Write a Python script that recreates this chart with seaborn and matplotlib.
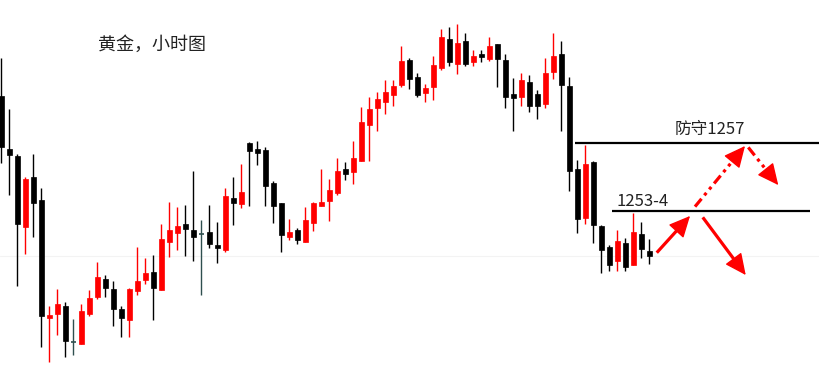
import numpy as np
import pandas as pd
import matplotlib
matplotlib.use("Agg")
import matplotlib.pyplot as plt
import seaborn as sns

# ---------------- data (hourly gold candles) ----------------
opens = [1259.44, 1256.72, 1256.36, 1252.72, 1255.28, 1254.09, 1248.03, 1248.24, 1248.64, 1246.77,
         1246.70, 1248.22, 1249.10, 1250.03, 1249.53, 1248.50, 1247.93, 1249.43, 1249.99, 1250.39,
         1249.46, 1251.95, 1252.41, 1252.86, 1252.55, 1252.33, 1252.44, 1251.78, 1251.53, 1254.19,
         1253.90, 1257.03, 1256.72, 1256.66, 1254.97, 1253.94, 1252.20, 1252.55, 1251.95, 1252.92,
         1253.80, 1254.06, 1254.45, 1255.69, 1255.55, 1256.11, 1257.97, 1258.84, 1259.15, 1259.51,
         1260.03, 1261.30, 1260.42, 1259.61, 1259.92, 1260.90, 1262.38, 1261.11, 1262.28, 1261.21,
         1261.61, 1261.35, 1262.12, 1261.30, 1259.55, 1259.41, 1260.16, 1259.55, 1259.05, 1260.70,
         1261.61, 1259.96, 1255.69, 1253.18, 1256.06, 1252.75, 1251.67, 1250.95, 1251.88, 1250.75,
         1252.34, 1251.47]
highs = [1261.38, 1258.77, 1256.46, 1255.29, 1256.46, 1254.71, 1248.65, 1249.53, 1248.84, 1247.98,
         1248.74, 1249.46, 1250.92, 1250.25, 1249.94, 1248.64, 1249.55, 1251.69, 1251.12, 1251.26,
         1252.86, 1254.00, 1253.73, 1253.83, 1255.58, 1253.06, 1253.83, 1252.96, 1254.71, 1255.28,
         1255.96, 1257.08, 1257.13, 1256.80, 1255.07, 1253.96, 1253.11, 1252.65, 1253.73, 1253.99,
         1255.69, 1255.17, 1256.25, 1256.05, 1257.13, 1258.88, 1259.39, 1259.65, 1260.27, 1260.27,
         1262.02, 1261.40, 1260.63, 1260.06, 1261.50, 1262.89, 1263.00, 1263.15, 1262.69, 1261.81,
         1261.81, 1262.48, 1262.14, 1261.61, 1260.37, 1260.63, 1260.53, 1259.75, 1261.40, 1262.69,
         1262.28, 1260.42, 1256.15, 1256.92, 1256.08, 1252.80, 1251.78, 1252.55, 1252.12, 1253.44,
         1252.96, 1252.07]
lows = [1256.01, 1254.36, 1249.68, 1251.33, 1252.20, 1246.51, 1245.77, 1247.16, 1246.00, 1246.10,
        1246.68, 1248.14, 1249.01, 1249.11, 1247.62, 1247.06, 1247.06, 1249.22, 1249.78, 1247.92,
        1249.44, 1251.17, 1251.53, 1251.22, 1250.97, 1249.22, 1251.64, 1250.86, 1251.43, 1252.82,
        1253.70, 1253.80, 1255.91, 1253.80, 1252.92, 1251.43, 1252.03, 1251.84, 1251.93, 1252.51,
        1253.78, 1253.03, 1254.36, 1255.14, 1254.93, 1256.09, 1256.11, 1257.66, 1258.53, 1258.94,
        1259.92, 1259.81, 1259.41, 1259.15, 1259.25, 1260.80, 1261.00, 1260.59, 1261.00, 1261.00,
        1261.21, 1261.25, 1259.92, 1258.84, 1257.66, 1258.94, 1258.64, 1258.28, 1258.84, 1260.33,
        1257.66, 1254.57, 1252.41, 1252.84, 1251.86, 1250.35, 1250.45, 1250.45, 1250.45, 1250.73,
        1251.09, 1250.78]
closes = [1256.80, 1256.42, 1252.84, 1255.17, 1253.95, 1248.12, 1248.17, 1248.74, 1246.85, 1246.77,
          1248.38, 1249.06, 1250.13, 1249.58, 1248.50, 1248.03, 1249.53, 1249.92, 1250.33, 1249.58,
          1252.08, 1252.55, 1252.75, 1252.61, 1252.20, 1252.33, 1251.84, 1251.64, 1254.30, 1253.95,
          1254.50, 1256.63, 1256.53, 1254.83, 1253.80, 1252.31, 1252.44, 1252.05, 1253.06, 1253.94,
          1253.99, 1254.61, 1255.58, 1255.45, 1256.25, 1258.11, 1258.77, 1259.29, 1259.65, 1259.96,
          1261.25, 1260.33, 1259.51, 1259.86, 1261.04, 1262.48, 1261.21, 1262.17, 1261.11, 1261.50,
          1261.47, 1262.02, 1261.35, 1259.41, 1259.36, 1260.27, 1258.94, 1258.94, 1260.63, 1261.50,
          1260.03, 1255.57, 1253.10, 1255.94, 1252.80, 1251.52, 1250.75, 1251.98, 1250.66, 1252.44,
          1251.55, 1251.22]

title_text = "黄金，小时图"
defense_level = 1257.0
defense_label = "防守1257"
support_level = 1253.5
support_label = "1253-4"

# ---------------- styling ----------------
sns.set_theme(style="white")
plt.rcParams['font.family'] = ['Noto Sans CJK SC', 'DejaVu Sans']

df = pd.DataFrame({"open": opens, "high": highs, "low": lows, "close": closes})
df["idx"] = np.arange(len(df))
df["kind"] = np.where(np.isclose(df["open"], df["close"]), "doji",
                      np.where(df["close"] > df["open"], "up", "down"))
palette = {"up": "#ff0000", "down": "#000000", "doji": "#2f4f4f"}

fig = plt.figure(figsize=(8.19, 3.90), dpi=100)
ax = fig.add_axes([0, 0, 1, 1])
ax.set_xlim(-0.1625, 102.21)
ax.set_ylim(1244.313, 1264.385)

# faint grid line
ax.axhline(1251.22, color="#f3f3f3", lw=0.8, zorder=0)

body_w = 0.62
for kind, sub in df.groupby("kind"):
    col = palette[kind]
    ax.vlines(sub["idx"], sub["low"], sub["high"], color=col, lw=1.0, zorder=2)
    if kind == "doji":
        ax.hlines(sub["open"], sub["idx"] - body_w / 2, sub["idx"] + body_w / 2,
                  color=col, lw=1.2, zorder=3)
    else:
        bottom = np.minimum(sub["open"], sub["close"])
        height = np.abs(sub["close"] - sub["open"])
        ax.bar(sub["idx"], height, bottom=bottom, width=body_w, color=col,
               edgecolor=col, linewidth=0.5, zorder=3)

# horizontal levels
ax.hlines(defense_level, 71.7, 103, color="black", lw=1.6, zorder=4)
ax.hlines(support_level, 76.3, 101.1, color="black", lw=1.6, zorder=4)
ax.text(88.6, 1257.47, defense_label, ha="center", va="baseline", fontsize=12, color="#222222")
ax.text(76.9, 1253.78, support_label, ha="left", va="baseline", fontsize=12, color="#222222")

# scenario arrows
dashdot = (0, (3.2, 1.4, 1.0, 1.4, 1.0, 1.4))
arrows = [
    ((81.93, 1251.38), (86.09, 1253.27), "solid"),
    ((86.71, 1253.75), (92.96, 1256.87), dashdot),
    ((93.37, 1256.80), (97.12, 1254.86), dashdot),
    ((87.68, 1253.20), (93.05, 1250.23), "solid"),
]
fig.canvas.draw()
head_px = 13.0
for start, end, ls in arrows:
    p0 = ax.transData.transform(start)
    p1 = ax.transData.transform(end)
    vec = p1 - p0
    L = np.hypot(*vec)
    base_px = p1 - vec / L * head_px
    base = ax.transData.inverted().transform(base_px)
    ax.plot([start[0], base[0]], [start[1], base[1]], color="#ff0000", lw=2.3,
            linestyle=ls, solid_capstyle="butt", zorder=5)
    ax.annotate("", xy=end, xytext=tuple(base),
                arrowprops=dict(arrowstyle="-|>,head_length=0.95,head_width=0.45",
                                mutation_scale=14, color="#ff0000", lw=1.0,
                                shrinkA=0, shrinkB=0),
                zorder=5)

fig.text(98 / 819, 1 - 44.5 / 390, title_text, ha="left", va="center",
         fontsize=13, color="#222222")

ax.set_axis_off()
sns.despine(ax=ax, left=True, bottom=True)

fig.savefig("out.png", dpi=100, facecolor="white")
